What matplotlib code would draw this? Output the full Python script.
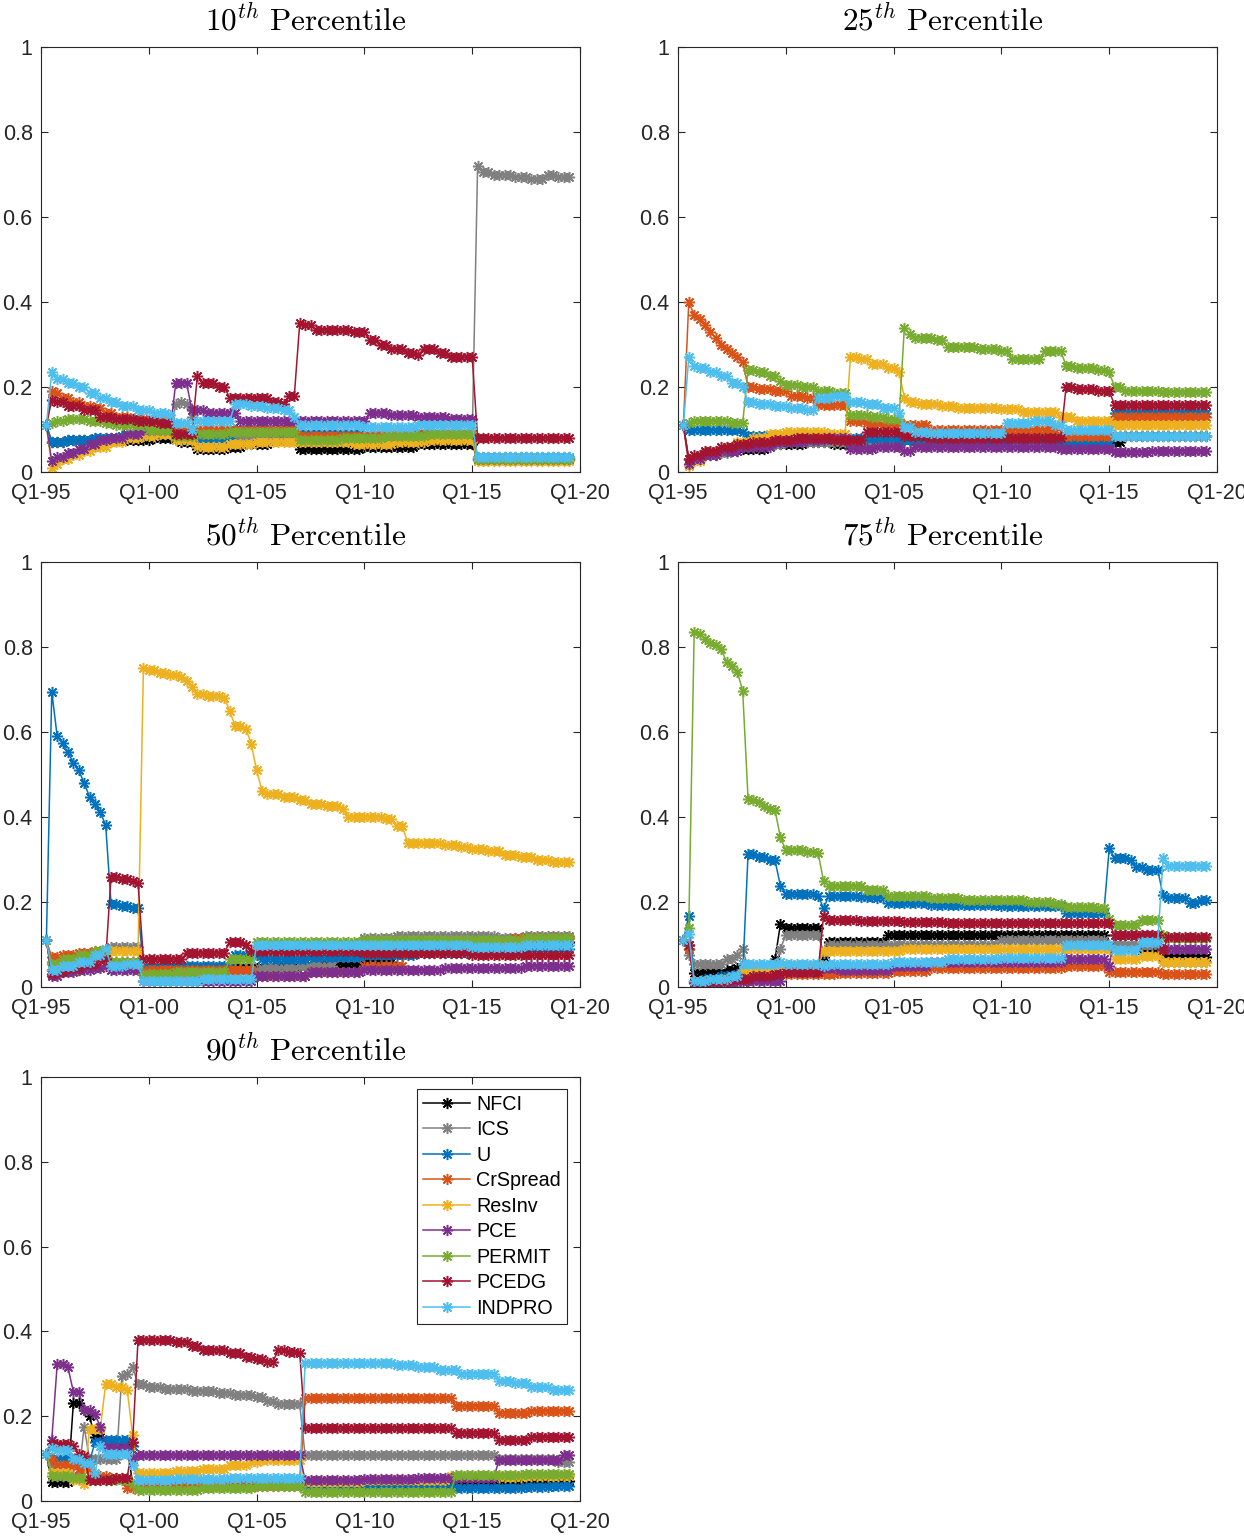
import matplotlib
matplotlib.use('Agg')
import matplotlib.pyplot as plt
import numpy as np

plt.rcParams['font.family'] = ['Liberation Sans', 'DejaVu Sans']
plt.rcParams['mathtext.fontset'] = 'cm'

# quarters since Q1-95 at which the series are observed
n_obs = 98
quarters = np.arange(1, n_obs + 1)

series_names = ['NFCI', 'ICS', 'U', 'CrSpread', 'ResInv', 'PCE', 'PERMIT', 'PCEDG', 'INDPRO']
series_colors = ['#000000', '#808080', '#0072BD', '#D95319', '#EDB120',
                 '#7E2F8E', '#77AC30', '#A2142F', '#4DBEEE']

panel_titles = [r'$10^{th}\ \mathrm{Percentile}$', r'$25^{th}\ \mathrm{Percentile}$',
                r'$50^{th}\ \mathrm{Percentile}$', r'$75^{th}\ \mathrm{Percentile}$',
                r'$90^{th}\ \mathrm{Percentile}$']
xtick_labels = ['Q1-95', 'Q1-00', 'Q1-05', 'Q1-10', 'Q1-15', 'Q1-20']
ytick_labels = ['0', '0.2', '0.4', '0.6', '0.8', '1']

# values: (first quarter, value) -> value holds until next entry
# ---- 10th percentile
q10_nfci = [(1, .11), (2, .07), (5, .075), (13, .075), (21, .08), (26, .07), (29, .055), (35, .058),
            (38, .065), (43, .075), (48, .055), (60, .06), (70, .065), (81, .03)]
q10_ics = [(1, .11), (2, .07), (5, .075), (10, .08), (15, .085), (20, .09), (25, .16), (26, .165),
           (27, .16), (28, .13), (29, .08), (48, .08), (81, .72), (82, .705), (84, .70), (88, .695),
           (91, .69), (94, .70), (96, .693)]
q10_u = [(1, .11), (2, .07), (5, .075), (10, .08), (15, .085), (20, .09), (25, .075), (29, .08),
         (36, .1), (44, .095), (48, .09), (60, .085), (70, .09), (81, .035)]
q10_crspread = [(1, .11), (2, .19), (3, .185), (4, .175), (6, .165), (8, .155), (10, .15), (12, .14),
                (14, .13), (17, .125), (20, .12), (25, .1), (38, .1), (44, .105), (48, .085),
                (63, .09), (81, .03)]
q10_resinv = [(1, .11), (2, .01), (3, .02), (4, .03), (6, .04), (8, .05), (10, .06), (13, .07),
              (16, .08), (19, .085), (22, .09), (25, .075), (29, .06), (35, .065), (40, .07),
              (58, .065), (66, .07), (72, .075), (81, .025)]
q10_pce = [(1, .11), (2, .025), (3, .035), (5, .045), (7, .055), (9, .065), (11, .075), (13, .08),
           (16, .09), (19, .1), (25, .21), (28, .145), (31, .14), (37, .12), (61, .14), (65, .135),
           (70, .13), (76, .125), (81, .03)]
q10_permit = [(1, .11), (2, .115), (3, .12), (5, .125), (9, .12), (12, .115), (14, .11), (20, .1),
              (25, .085), (29, .09), (35, .095), (48, .075), (56, .08), (64, .085), (72, .09),
              (81, .03)]
q10_pcedg = [(1, .11), (2, .17), (3, .165), (5, .155), (8, .145), (11, .13), (14, .125), (18, .12),
             (22, .115), (25, .09), (29, .225), (30, .21), (33, .2), (35, .175), (43, .165),
             (45, .16), (46, .18), (48, .35), (49, .345), (51, .335), (58, .33), (61, .31), (63, .3),
             (65, .29), (68, .28), (70, .275), (71, .29), (72, .29), (74, .28), (76, .27), (81, .08)]
q10_indpro = [(1, .11), (2, .235), (3, .22), (5, .21), (7, .2), (9, .185), (11, .175), (13, .165),
              (15, .155), (18, .145), (21, .14), (24, .135), (25, .115), (28, .1), (29, .12),
              (36, .16), (39, .155), (42, .15), (45, .145), (47, .13), (48, .11), (60, .105),
              (70, .11), (81, .035)]

# ---- 25th percentile
q25_nfci = [(1, .11), (2, .03), (5, .04), (8, .05), (12, .055), (17, .065), (24, .07), (29, .065),
            (35, .07), (42, .075), (62, .08), (68, .075), (81, .07), (83, .085)]
q25_ics = [(1, .11), (2, .03), (5, .045), (10, .06), (15, .065), (20, .07), (42, .08), (60, .085)]
q25_u = [(1, .11), (2, .1), (7, .098), (12, .095), (13, .085), (29, .08), (42, .075), (50, .07),
         (62, .075), (71, .067), (81, .14)]
q25_crspread = [(1, .11), (2, .40), (3, .37), (4, .36), (5, .345), (6, .33), (7, .315), (8, .30),
                (9, .29), (10, .28), (11, .27), (12, .26), (13, .2), (15, .195), (18, .19),
                (21, .18), (24, .175), (26, .158), (32, .12), (35, .115), (38, .11), (47, .1),
                (71, .085), (81, .13)]
q25_resinv = [(1, .11), (2, .015), (3, .025), (5, .04), (7, .05), (9, .06), (11, .07), (14, .08),
              (17, .09), (20, .095), (28, .09), (32, .27), (34, .265), (36, .255), (39, .245),
              (41, .235), (42, .175), (43, .165), (45, .16), (49, .155), (52, .15), (60, .148),
              (64, .142), (71, .13), (74, .12), (81, .11)]
q25_pce = [(1, .11), (2, .02), (3, .03), (5, .04), (8, .05), (12, .06), (18, .07), (24, .075),
           (28, .08), (32, .055), (37, .06), (42, .05), (44, .06), (71, .055), (81, .048), (88, .05)]
q25_permit = [(1, .11), (2, .115), (3, .12), (10, .115), (13, .24), (15, .235), (17, .225),
              (19, .215), (20, .205), (23, .2), (26, .19), (29, .185), (32, .135), (36, .13),
              (39, .125), (42, .34), (43, .325), (44, .315), (48, .31), (50, .295), (56, .29),
              (60, .285), (62, .265), (68, .285), (72, .25), (74, .245), (78, .24), (80, .235),
              (81, .2), (83, .19), (90, .188)]
q25_pcedg = [(1, .11), (2, .03), (3, .04), (5, .05), (8, .06), (11, .065), (14, .07), (18, .075),
             (22, .08), (29, .075), (35, .095), (42, .085), (47, .08), (72, .2), (74, .195),
             (78, .19), (81, .158)]
q25_indpro = [(1, .11), (2, .27), (3, .25), (4, .245), (6, .235), (8, .225), (10, .21), (12, .2),
              (13, .165), (15, .16), (18, .155), (21, .15), (24, .145), (26, .175), (29, .18),
              (32, .165), (35, .16), (38, .15), (41, .14), (42, .105), (44, .095), (47, .092),
              (61, .115), (66, .12), (70, .11), (72, .1), (81, .085)]

# ---- 50th percentile
q50_nfci = [(1, .11), (2, .04), (8, .05), (12, .06), (13, .05), (19, .045), (44, .05), (52, .055),
            (60, .06), (66, .1), (80, .11), (90, .105)]
q50_ics = [(1, .11), (2, .06), (5, .07), (8, .08), (12, .085), (13, .095), (19, .035), (30, .04),
           (41, .045), (48, .05), (55, .07), (60, .115), (66, .12), (85, .115), (90, .12)]
q50_u = [(1, .11), (2, .695), (3, .59), (4, .573), (5, .552), (6, .528), (7, .51), (8, .48),
         (9, .448), (10, .43), (11, .411), (12, .381), (13, .195), (15, .19), (17, .185), (19, .045),
         (25, .05), (36, .075), (41, .065), (50, .07), (60, .075), (70, .08), (80, .085), (90, .09)]
q50_crspread = [(1, .11), (2, .07), (4, .075), (7, .08), (10, .085), (12, .09), (13, .06),
                (19, .04), (40, .025), (50, .035), (60, .05), (68, .1), (80, .105), (88, .115)]
q50_resinv = [(1, .11), (2, .03), (4, .04), (8, .05), (12, .055), (13, .085), (19, .75), (20, .745),
              (22, .74), (24, .735), (26, .73), (27, .72), (28, .705), (29, .69), (31, .685),
              (34, .68), (35, .65), (36, .615), (38, .608), (39, .572), (40, .51), (41, .462),
              (42, .455), (45, .448), (48, .44), (50, .43), (53, .425), (56, .42), (57, .40),
              (64, .395), (66, .38), (68, .34), (75, .335), (78, .33), (80, .325), (83, .32),
              (86, .31), (89, .305), (92, .298), (95, .294)]
q50_pce = [(1, .11), (2, .025), (4, .035), (7, .04), (10, .045), (12, .05), (13, .04), (19, .015),
           (40, .025), (50, .035), (60, .04), (75, .045), (90, .05)]
q50_permit = [(1, .11), (2, .055), (4, .065), (7, .075), (10, .085), (12, .09), (13, .06),
              (19, .03), (25, .035), (35, .065), (40, .105), (60, .11), (90, .115)]
q50_pcedg = [(1, .11), (2, .03), (3, .035), (5, .045), (8, .055), (11, .065), (13, .26), (15, .255),
             (17, .25), (18, .245), (19, .065), (27, .08), (35, .105), (38, .1), (39, .085),
             (60, .08), (80, .075)]
q50_indpro = [(1, .11), (2, .04), (4, .05), (7, .06), (10, .075), (12, .09), (13, .05), (16, .055),
              (19, .015), (30, .018), (40, .1), (80, .095), (90, .1)]

# ---- 75th percentile
q75_nfci = [(1, .11), (2, .09), (3, .034), (6, .036), (9, .04), (11, .045), (12, .055), (13, .045),
            (17, .05), (18, .065), (19, .148), (20, .138), (27, .07), (28, .107), (39, .122),
            (80, .095), (86, .087), (90, .071)]
q75_ics = [(1, .11), (2, .075), (3, .053), (6, .055), (9, .065), (11, .075), (12, .09), (13, .045),
           (19, .09), (20, .122), (27, .08), (28, .1), (60, .11), (80, .1), (90, .06)]
q75_u = [(1, .11), (2, .168), (3, .015), (5, .02), (8, .025), (11, .03), (13, .313), (15, .305),
         (17, .3), (18, .298), (19, .238), (20, .218), (26, .215), (27, .185), (28, .215), (34, .212),
         (37, .21), (39, .197), (47, .193), (60, .19), (72, .173), (80, .326), (81, .303), (84, .298),
         (85, .283), (87, .275), (90, .216), (91, .209), (95, .197), (97, .205)]
q75_crspread = [(1, .11), (2, .09), (3, .015), (10, .02), (19, .03), (30, .032), (40, .038),
                (47, .044), (72, .05), (80, .036), (90, .03)]
q75_resinv = [(1, .11), (2, .1), (3, .015), (8, .02), (12, .04), (13, .045), (20, .05), (27, .085),
              (42, .09), (81, .067), (86, .072), (90, .06)]
q75_pce = [(1, .11), (2, .1), (3, .01), (8, .012), (13, .015), (20, .035), (27, .045), (30, .04),
           (40, .05), (47, .058), (60, .06), (72, .065), (80, .05), (81, .122), (90, .09)]
q75_permit = [(1, .11), (2, .14), (3, .835), (4, .83), (5, .82), (6, .81), (7, .805), (8, .795),
              (9, .765), (10, .755), (11, .742), (12, .697), (13, .442), (14, .44), (15, .435),
              (16, .425), (17, .42), (18, .416), (19, .352), (20, .322), (24, .318), (26, .315),
              (27, .25), (28, .238), (35, .228), (39, .213), (47, .209), (53, .205), (65, .2),
              (70, .195), (72, .189), (78, .185), (80, .16), (81, .146), (86, .158), (90, .122),
              (91, .115)]
q75_pcedg = [(1, .11), (2, .1), (3, .012), (6, .015), (10, .02), (14, .025), (18, .03), (20, .035),
             (27, .168), (28, .158), (34, .155), (42, .152), (50, .15), (81, .122), (90, .087),
             (91, .118)]
q75_indpro = [(1, .11), (2, .125), (3, .015), (6, .018), (10, .025), (12, .055), (19, .058),
              (20, .055), (27, .05), (28, .055), (40, .06), (50, .065), (60, .068), (72, .1),
              (81, .087), (86, .107), (90, .303), (91, .285)]

# ---- 90th percentile
q90_nfci = [(1, .11), (2, .045), (6, .23), (8, .215), (9, .2), (10, .15), (12, .13), (17, .04),
            (84, .045), (90, .047)]
q90_ics = [(1, .11), (2, .085), (3, .06), (8, .175), (9, .1), (15, .295), (16, .3), (17, .315),
           (18, .277), (20, .27), (23, .265), (28, .26), (33, .255), (36, .25), (40, .245),
           (42, .235), (44, .228), (49, .108), (85, .1), (96, .092)]
q90_u = [(1, .11), (2, .1), (7, .09), (10, .14), (12, .145), (17, .13), (18, .04), (30, .042),
         (49, .035), (77, .03), (90, .033), (95, .036)]
q90_crspread = [(1, .11), (2, .1), (3, .085), (7, .075), (10, .06), (13, .055), (16, .03),
                (18, .035), (49, .242), (77, .224), (85, .207), (91, .213)]
q90_resinv = [(1, .11), (2, .065), (6, .05), (8, .04), (9, .17), (12, .277), (14, .27), (16, .262),
              (17, .155), (18, .065), (25, .07), (30, .075), (35, .085), (39, .092), (41, .097),
              (49, .045), (60, .05), (76, .06), (85, .057), (90, .06)]
q90_pce = [(1, .11), (2, .145), (3, .322), (5, .315), (6, .258), (8, .215), (10, .205), (11, .175),
           (12, .125), (17, .1), (18, .108), (49, .05), (60, .052), (70, .055), (85, .097),
           (97, .108)]
q90_permit = [(1, .11), (2, .06), (6, .055), (9, .05), (17, .04), (18, .025), (30, .03), (40, .035),
              (49, .022), (77, .062), (90, .063)]
q90_pcedg = [(1, .11), (2, .135), (6, .13), (7, .11), (8, .105), (9, .05), (14, .055), (17, .14),
             (18, .38), (25, .375), (28, .365), (30, .357), (35, .348), (38, .34), (40, .335),
             (42, .328), (44, .355), (46, .352), (48, .35), (49, .171), (77, .16), (85, .144),
             (91, .152)]
q90_indpro = [(1, .11), (2, .125), (3, .12), (6, .1), (8, .09), (10, .065), (11, .13), (12, .11),
              (17, .085), (18, .05), (25, .052), (35, .055), (49, .325), (66, .32), (70, .315),
              (74, .31), (78, .3), (85, .283), (88, .278), (91, .27), (95, .262)]

panels = [
    [q10_nfci, q10_ics, q10_u, q10_crspread, q10_resinv, q10_pce, q10_permit, q10_pcedg, q10_indpro],
    [q25_nfci, q25_ics, q25_u, q25_crspread, q25_resinv, q25_pce, q25_permit, q25_pcedg, q25_indpro],
    [q50_nfci, q50_ics, q50_u, q50_crspread, q50_resinv, q50_pce, q50_permit, q50_pcedg, q50_indpro],
    [q75_nfci, q75_ics, q75_u, q75_crspread, q75_resinv, q75_pce, q75_permit, q75_pcedg, q75_indpro],
    [q90_nfci, q90_ics, q90_u, q90_crspread, q90_resinv, q90_pce, q90_permit, q90_pcedg, q90_indpro],
]


def expand(breaks, n=n_obs):
    # each read value is held until the next listed quarter
    out = np.empty(n)
    for i, (start, val) in enumerate(breaks):
        stop = breaks[i + 1][0] if i + 1 < len(breaks) else n + 1
        out[start - 1:stop - 1] = val
    return out


fig = plt.figure(figsize=(12.44, 15.39), dpi=100)

# axes boxes in pixels (left, top, right, bottom)
boxes = [(41, 47, 580, 472), (678, 47, 1217, 472),
         (41, 562, 580, 987), (678, 562, 1217, 987),
         (41, 1077, 580, 1501)]
W, H = 1244, 1539
axcol = '#262626'
asterisk = (8, 2, 0)   # matlab-like '*' marker

for k, (series_list, box) in enumerate(zip(panels, boxes)):
    l, t, r, b = box
    ax = fig.add_axes([l / W, 1 - b / H, (r - l) / W, (b - t) / H])
    for name, col, br in zip(series_names, series_colors, series_list):
        ax.plot(quarters, expand(br), color=col, marker=asterisk, markersize=8,
                markeredgewidth=1.1, linewidth=1.1, label=name)
    ax.set_xlim(0, 100)
    ax.set_ylim(0, 1)
    ax.set_xticks([0, 20, 40, 60, 80, 100])
    ax.set_xticklabels(xtick_labels)
    ax.set_yticks([0, 0.2, 0.4, 0.6, 0.8, 1.0])
    ax.set_yticklabels(ytick_labels)
    ax.tick_params(direction='in', length=5, width=0.8, top=True, right=True,
                   labelsize=15.5, colors=axcol)
    ax.tick_params(axis='x', pad=8)
    ax.tick_params(axis='y', pad=6)
    for sp in ax.spines.values():
        sp.set_color(axcol)
        sp.set_linewidth(0.8)
    ax.set_title(panel_titles[k], fontsize=22.5, pad=12, color='black', x=0.49)
    if k == 4:
        leg = ax.legend(loc='upper right', bbox_to_anchor=(0.976, 0.972), fontsize=14.2,
                        handlelength=2.4, labelspacing=0.33, borderpad=0.3,
                        handletextpad=0.3, fancybox=False, framealpha=1,
                        edgecolor=axcol, borderaxespad=0)
        leg.get_frame().set_linewidth(0.8)

fig.savefig('out.png', dpi=100)
